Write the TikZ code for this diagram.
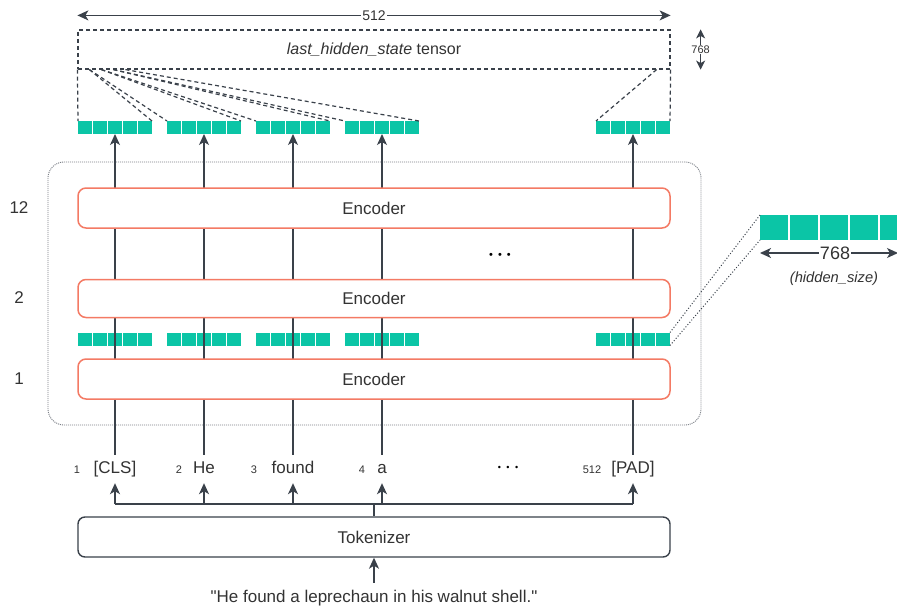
\documentclass[tikz,border=0pt]{standalone}
\usepackage{fontspec}
\setmainfont{Liberation Sans}
\usetikzlibrary{arrows.meta,calc}

\definecolor{cell}{HTML}{0BC5A6}
\definecolor{encline}{HTML}{F47A64}
\definecolor{ink}{HTML}{3A414A}
\definecolor{txt}{HTML}{333333}
\definecolor{frame}{HTML}{7A7F86}

\begin{document}
\begin{tikzpicture}[x=1pt,y=-1pt,
  font=\fontsize{17}{20}\selectfont, text=txt,
  hd/.tip={Stealth[length=11pt,width=10pt,inset=3pt]},
  smallhd/.tip={Stealth[length=9pt,width=9pt,inset=2.5pt]},
  conn/.style={draw=ink, line width=1.3pt},
  arr/.style={conn, -hd},
  darr/.style={conn, hd-hd},
  encoder/.style={draw=encline, line width=1.5pt, rounded corners=8pt, fill=white,
    minimum width=592pt, minimum height=40pt, inner sep=0pt},
  tokbox/.style={draw=ink, line width=1.4pt, rounded corners=7pt, fill=white,
    minimum width=592pt, minimum height=40pt, inner sep=0pt},
  vec/.style={minimum width=74pt, minimum height=13pt, inner sep=0pt, outer sep=0pt,
    path picture={\foreach \k in {0,...,4}
      \fill[cell] ([xshift=\k*15pt]path picture bounding box.north west) rectangle ++(14pt,-13pt);}},
  bigvec/.style={minimum width=148pt, minimum height=25pt, inner sep=0pt, outer sep=0pt,
    path picture={\foreach \k in {0,...,4}
      \fill[cell] ([xshift=\k*30pt]path picture bounding box.north west) rectangle ++(28pt,-25pt);}},
  fan/.style={draw=ink, line width=1.2pt, dash pattern=on 4pt off 3pt},
  zoomline/.style={draw=ink, line width=1pt, dash pattern=on 1pt off 2pt},
  stack/.style={draw=frame, line width=0.9pt, dash pattern=on 1pt off 1pt, rounded corners=16pt,
    minimum width=653pt, minimum height=263pt, inner sep=0pt},
  token/.style={text height=13pt, text depth=4pt, inner sep=0pt, minimum height=28pt},
  idx/.style={font=\fontsize{11}{13}\selectfont},
  dots/.style={font=\fontsize{9}{10}\selectfont, text=black},
  lbl/.style={fill=white, inner sep=1pt}
]
\useasboundingbox (0,0) rectangle (897,607);
\fill[white] (0,0) rectangle (897,607);
\clip (0,0) rectangle (897,607);

% dotted frame around the encoder stack
\node[stack] (stackbox) at (374.5,293.5) {};

% hidden states between encoder 1 and encoder 2
\node[vec] (m1) at (115,339) {};
\node[vec] (m2) at (204,339) {};
\node[vec] (m3) at (293,339) {};
\node[vec] (m4) at (382,339) {};
\node[vec] (m5) at (633,339) {};

% output hidden states
\node[vec] (v1) at (115,127.5) {};
\node[vec] (v2) at (204,127.5) {};
\node[vec] (v3) at (293,127.5) {};
\node[vec] (v4) at (382,127.5) {};
\node[vec] (v5) at (633,127.5) {};

% tokens
\node[token] (tk1) at (115,469) {[CLS]};
\node[token] (tk2) at (204,469) {He};
\node[token] (tk3) at (293,469) {found};
\node[token] (tk4) at (382,469) {a};
\node[token] (tk5) at (633,469) {[PAD]};
\node[idx] (i1) at (77,470) {1};
\node[idx] (i2) at (179,470) {2};
\node[idx] (i3) at (254,470) {3};
\node[idx] (i4) at (362,470) {4};
\node[idx] (i5) at (592,470) {512};
\node[dots] (tkdots) at (508,468) {\textbullet\hspace{5.5pt}\textbullet\hspace{5.5pt}\textbullet};

% token streams running up through the encoders
\foreach \i in {1,...,5}
  \draw[arr] (tk\i.north) -- (v\i.south);

% encoder layers
\node[encoder] (enc12) at (374,208) {Encoder};
\node[encoder, minimum height=38pt] (enc2) at (374,298.5) {Encoder};
\node[encoder] (enc1) at (374,379) {Encoder};
\node (l12) at (19,208) {12};
\node (l2) at (19,298) {2};
\node (l1) at (19,379) {1};
\node[font=\fontsize{11}{12}\selectfont, text=black] (ldots) at (500,256) {\textbullet\hspace{5pt}\textbullet\hspace{5pt}\textbullet};

% tokenizer and input sentence
\node[tokbox] (tokz) at (374,537) {Tokenizer};
\node[token, minimum height=17pt] (sent) at (374,597.5)
  {\textquotedbl He found a leprechaun in his walnut shell.\textquotedbl};
\draw[arr] ([yshift=6pt]sent.north) -- (tokz.south);
\coordinate (bus) at (374,504);
\draw[conn] (tokz.north) -- (bus);
\draw[conn] (bus -| tk1.south) -- (bus -| tk5.south);
\foreach \i in {1,...,5}
  \draw[arr] (bus -| tk\i.south) -- (tk\i.south);

% last_hidden_state tensor
\node[fan, minimum width=592pt, minimum height=39pt, inner sep=0pt,
  font=\fontsize{16}{18}\selectfont] (tensor) at (374,49.5)
  {\textit{last\_hidden\_state} tensor};
\draw[fan] (tensor.south west) -- (v1.north west);
\draw[fan] ([xshift=12pt]tensor.south west) -- (v1.north east);
\draw[fan] ([xshift=12pt]tensor.south west) -- (v2.north west);
\draw[fan] ([xshift=24pt]tensor.south west) -- (v2.north east);
\draw[fan] ([xshift=24pt]tensor.south west) -- (v3.north west);
\draw[fan] ([xshift=36pt]tensor.south west) -- (v3.north east);
\draw[fan] ([xshift=36pt]tensor.south west) -- (v4.north west);
\draw[fan] ([xshift=48pt]tensor.south west) -- (v4.north east);
\draw[fan] (tensor.south east) -- (v5.north east);
\draw[fan] ([xshift=-14pt]tensor.south east) -- (v5.north west);

% tensor dimensions
\draw[darr] ([yshift=14pt]tensor.north west) -- node[lbl, font=\fontsize{14}{16}\selectfont] (d512) {512} ([yshift=14pt]tensor.north east);
\draw[conn, smallhd-smallhd] ([xshift=30pt]tensor.north east) -- node[lbl, inner sep=0.3pt, font=\fontsize{11}{12}\selectfont] (d768) {768} ([xshift=30pt]tensor.south east);

% enlarged hidden state vector
\node[bigvec] (big) at (834,227.5) {};
\draw[zoomline] (m5.north east) -- (big.north west);
\draw[zoomline] (m5.south east) -- (big.south west);
\coordinate (hsend) at (898,253);
\draw[darr] ([yshift=-13pt]big.south west) -- (hsend);
\node[lbl, font=\fontsize{18}{20}\selectfont] (hs) at (835,253) {768};
\node[font=\fontsize{14.7}{16}\selectfont\itshape] (hsname) at (834,279) {(hidden\_size)};
\end{tikzpicture}
\end{document}
